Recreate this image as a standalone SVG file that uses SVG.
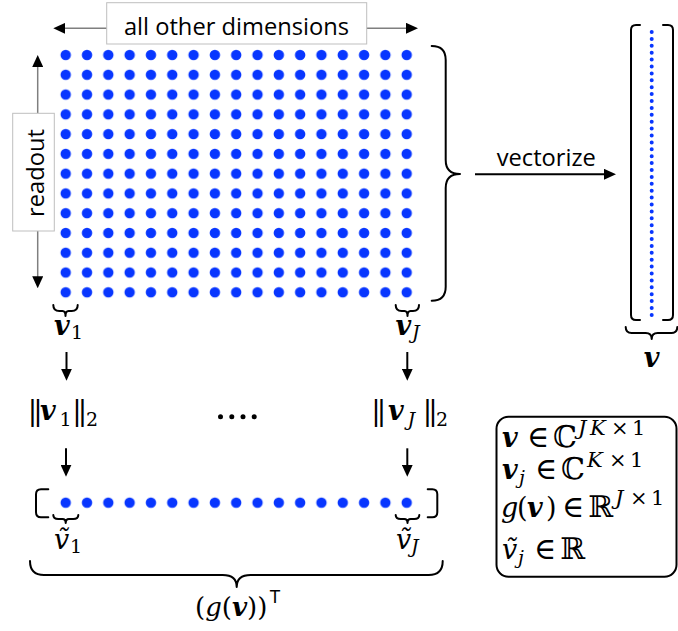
<svg xmlns="http://www.w3.org/2000/svg" width="678" height="631" viewBox="0 0 678 631">
<style>
.s{font-family:"Open Sans","Liberation Sans",sans-serif;font-size:23.7px;fill:#000}
.m{font-family:"DejaVu Serif",serif;font-size:27px;fill:#000}
.bv{font-weight:bold;font-style:italic}
.it{font-style:italic}
.sb{font-size:19px}
.bar{font-size:28px;letter-spacing:-4px}
.sup{font-size:21px}
.big{font-size:30px}
.lbox{fill:#fff;stroke:#bfbfbf;stroke-width:1}
.br{fill:none;stroke:#000;stroke-width:2;stroke-linecap:round;stroke-linejoin:round}
.ga{stroke:#7f7f7f;stroke-width:1.5;marker-end:url(#ah)}
.ka{stroke:#000;stroke-width:2;marker-end:url(#ah)}
</style>
<defs>
<marker id="ah" markerUnits="userSpaceOnUse" viewBox="0 0 12 11" markerWidth="12" markerHeight="11" refX="6" refY="5.5" orient="auto"><path d="M0,0 L12,5.5 L0,11 z" fill="#000"/></marker>
<pattern id="grid" patternUnits="userSpaceOnUse" x="55.05" y="45.11" width="21.3125" height="19.775"><circle cx="10.656" cy="9.888" r="5.2" fill="#0836ff"/></pattern>
<pattern id="row" patternUnits="userSpaceOnUse" x="55.05" y="492.81" width="21.3125" height="19.775"><circle cx="10.656" cy="9.888" r="5.2" fill="#0836ff"/></pattern>
</defs>

<g id="connectors">
<line class="ga" x1="107" y1="28.3" x2="59.3" y2="28.3"/>
<line class="ga" x1="358" y1="28.3" x2="412" y2="28.3"/>
<line class="ga" x1="37.7" y1="113.3" x2="37.7" y2="61"/>
<line class="ga" x1="37.7" y1="231" x2="37.7" y2="282.3"/>
<line class="ka" x1="475" y1="174.3" x2="610" y2="174.3"/>
<line class="ka" x1="66.5" y1="352" x2="66.5" y2="374.7"/>
<line class="ka" x1="407.3" y1="352" x2="407.3" y2="374.7"/>
<line class="ka" x1="66" y1="448.3" x2="66" y2="470.7"/>
<line class="ka" x1="407.3" y1="448.3" x2="407.3" y2="470.7"/>
</g>

<g id="dim-label">
<rect class="lbox" x="106.7" y="2.7" width="260" height="41.3"/>
<text class="s" x="236.5" y="35" text-anchor="middle">all other dimensions</text>
</g>

<g id="readout-label">
<rect class="lbox" x="12.7" y="113.3" width="41.6" height="117.7"/>
<text class="s" x="44.3" y="173" text-anchor="middle" transform="rotate(-90 44.3 173)">readout</text>
</g>

<g id="matrix">
<rect x="55.05" y="45.11" width="362.3" height="257.1" fill="url(#grid)"/>
<path class="br" d="M431.7,46 Q445.7,46 445.7,60 L445.7,160 Q445.7,174 460,174 Q445.7,174 445.7,188 L445.7,286.7 Q445.7,300.7 431.7,300.7"/>
<path class="br" d="M53.3,305 Q53.3,311 59.3,311 L62.5,311 Q65.5,311 65.5,316 Q65.5,311 68.5,311 L71.7,311 Q77.7,311 77.7,305"/>
<path class="br" d="M395.7,305 Q395.7,311 401.7,311 L404.5,311 Q407.5,311 407.5,316 Q407.5,311 410.5,311 L413,311 Q419,311 419,305"/>
<text class="m" x="54" y="335"><tspan class="bv">v</tspan><tspan class="sb" x="71" dy="4">1</tspan></text>
<text class="m" x="395.5" y="335"><tspan class="bv">v</tspan><tspan class="sb it" x="412" dy="4">J</tspan></text>
</g>

<text class="s" x="546.3" y="166" text-anchor="middle">vectorize</text>

<g id="vector">
<path class="br" d="M640,25 L636,25 Q631,25 631,30 L631,315 Q631,320 636,320 L640,320"/>
<path class="br" d="M663,25 L668,25 Q673,25 673,30 L673,315 Q673,320 668,320 L663,320"/>
<line x1="651.7" y1="32" x2="651.7" y2="315" stroke="#0836ff" stroke-width="4" stroke-linecap="round" stroke-dasharray="0 6.9"/>
<path class="br" d="M625.7,327 Q625.7,333 631.7,333 L645.7,333 Q651.7,333 651.7,339 Q651.7,333 657.7,333 L671.3,333 Q677.3,333 677.3,327"/>
<text class="m bv" x="651.7" y="366.7" text-anchor="middle">v</text>
</g>

<g id="norms">
<text class="m" y="420"><tspan class="bar" x="27.8">||</tspan><tspan class="bv" x="40">v</tspan><tspan class="sb" x="59.5" dy="6">1</tspan><tspan class="bar" x="72.3" dy="-6">||</tspan><tspan class="sb" x="86" dy="6">2</tspan></text>
<g fill="#000"><circle cx="220.5" cy="416.7" r="2.5"/><circle cx="231.8" cy="416.7" r="2.5"/><circle cx="243" cy="416.7" r="2.5"/><circle cx="254.2" cy="416.7" r="2.5"/></g>
<text class="m" y="420"><tspan class="bar" x="371.3">||</tspan><tspan class="bv" x="388">v</tspan><tspan class="sb it" x="407.5" dy="6">J</tspan><tspan class="bar" x="422.8" dy="-6">||</tspan><tspan class="sb" x="436" dy="6">2</tspan></text>
</g>

<g id="gvector">
<path class="br" d="M48.3,489.3 L41,489.3 Q36,489.3 36,494.3 L36,512.3 Q36,517.3 41,517.3 L48.3,517.3"/>
<path class="br" d="M427.7,489.3 L432.3,489.3 Q437.3,489.3 437.3,494.3 L437.3,512.3 Q437.3,517.3 432.3,517.3 L427.7,517.3"/>
<rect x="55.05" y="492.81" width="362.3" height="19.775" fill="url(#row)"/>
<path class="br" d="M53.3,515 Q53.3,519 58.3,519 L62.5,519 Q65.7,519 65.7,523 Q65.7,519 68.9,519 L73.3,519 Q78.3,519 78.3,515"/>
<path class="br" d="M395.7,515 Q395.7,519 400.7,519 L404.3,519 Q407.5,519 407.5,523 Q407.5,519 410.7,519 L414.3,519 Q419.3,519 419.3,515"/>
<text class="m" x="54" y="549"><tspan class="it">ṽ</tspan><tspan class="sb" x="70" dy="4">1</tspan></text>
<text class="m" x="396" y="549"><tspan class="it">ṽ</tspan><tspan class="sb it" x="411" dy="4">J</tspan></text>
<path class="br" d="M30,561 Q30,575 44,575 L222.7,575 Q236.7,575 236.7,587 Q236.7,575 250.7,575 L428.7,575 Q442.7,575 442.7,561"/>
<text class="m" x="195" y="616" style="font-size:26px">(<tspan class="it">g</tspan>(<tspan class="bv">v</tspan>))<tspan dx="2" dy="-13" style="font-family:'Liberation Sans',sans-serif;font-size:18px">T</tspan></text>
</g>

<g id="legend">
<rect x="496.5" y="416.7" width="180" height="160" rx="12" fill="#fff" stroke="#000" stroke-width="2"/>
<text class="m" y="447"><tspan class="bv" x="502">v</tspan><tspan class="big" x="527">∈</tspan><tspan class="big" x="553">ℂ</tspan><tspan class="sup it" x="578" dy="-12">J</tspan><tspan class="sup it" x="590">K</tspan><tspan class="sup" x="611">×</tspan><tspan class="sup" x="632">1</tspan></text>
<text class="m" y="479"><tspan class="bv" x="502">v</tspan><tspan class="sb it" x="519" dy="5">j</tspan><tspan class="big" x="535" dy="-5">∈</tspan><tspan class="big" x="561">ℂ</tspan><tspan class="sup it" x="587" dy="-12">K</tspan><tspan class="sup" x="609">×</tspan><tspan class="sup" x="630">1</tspan></text>
<text class="m" y="517"><tspan class="it" x="501">g</tspan><tspan x="517">(</tspan><tspan class="bv" x="527">v</tspan><tspan x="546">)</tspan><tspan class="big" x="562">∈</tspan><tspan class="big" x="588">ℝ</tspan><tspan class="sup it" x="615" dy="-12">J</tspan><tspan class="sup" x="630">×</tspan><tspan class="sup" x="651">1</tspan></text>
<text class="m" y="559"><tspan class="it" x="502">ṽ</tspan><tspan class="sb it" x="518" dy="5">j</tspan><tspan class="big" x="534" dy="-5">∈</tspan><tspan class="big" x="560">ℝ</tspan></text>
</g>
</svg>
